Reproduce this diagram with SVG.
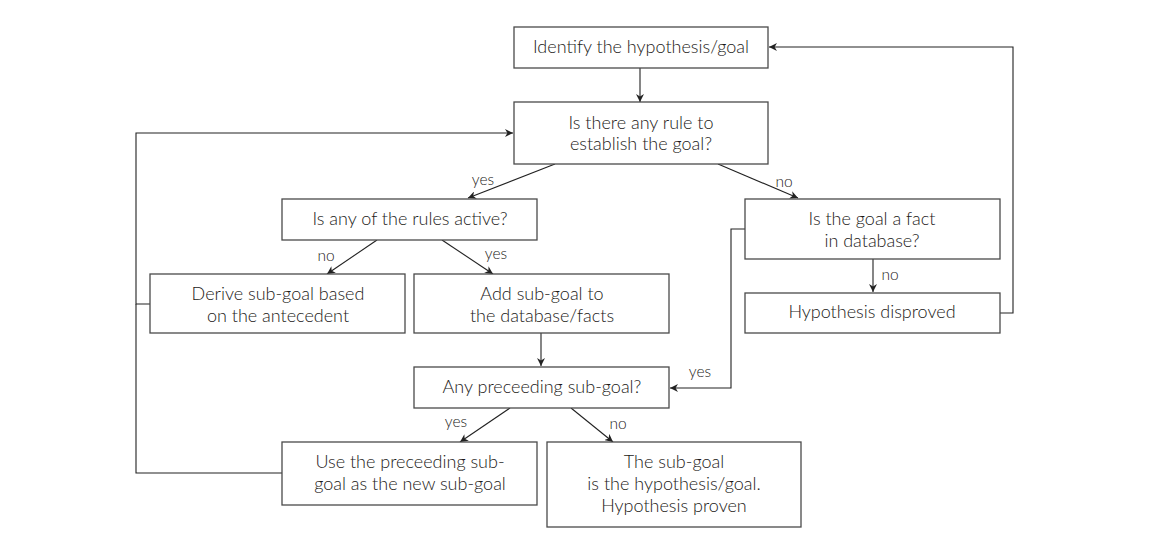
<svg xmlns="http://www.w3.org/2000/svg" width="1170" height="546" viewBox="0 0 1170 546">
<style>
.box{fill:#fff;stroke:#4a4a4a;stroke-width:1.3}
.t{font-family:Lato,"Liberation Sans",sans-serif;font-size:18px;font-weight:300;fill:#1c1a18;text-anchor:middle}
.l{font-family:Lato,"Liberation Sans",sans-serif;font-size:15.5px;font-weight:300;fill:#1c1a18;text-anchor:middle}
.c{fill:none;stroke:#222;stroke-width:1.1}
</style>
<defs>
<marker id="a" viewBox="0 0 10 10" refX="10" refY="5" markerWidth="8" markerHeight="8" markerUnits="userSpaceOnUse" orient="auto">
<path d="M0,0 L10,5 L0,10 L3,5 Z" fill="#222"/>
</marker>
</defs>
<rect width="1170" height="546" fill="#fff"/>
<g id="connectors">
<path class="c" d="M640,68 V102" marker-end="url(#a)"/>
<path class="c" d="M555,164 L468,198" marker-end="url(#a)"/>
<path class="c" d="M718,164 L798,198" marker-end="url(#a)"/>
<path class="c" d="M377,240 L327,274" marker-end="url(#a)"/>
<path class="c" d="M442,240 L493,274" marker-end="url(#a)"/>
<path class="c" d="M873,259 V292" marker-end="url(#a)"/>
<path class="c" d="M541,333 V366" marker-end="url(#a)"/>
<path class="c" d="M745,229 H731 V388 H670" marker-end="url(#a)"/>
<path class="c" d="M1000,313 H1013 V47 H769" marker-end="url(#a)"/>
<path class="c" d="M510,408 L460,442" marker-end="url(#a)"/>
<path class="c" d="M571,408 L613,442" marker-end="url(#a)"/>
<path class="c" d="M150,304 H136 V133 H513" marker-end="url(#a)"/>
<path class="c" d="M282,473 H136 V304"/>
<text class="l" x="483" y="185">yes</text>
<text class="l" x="784" y="187">no</text>
<text class="l" x="326" y="261">no</text>
<text class="l" x="496" y="259">yes</text>
<text class="l" x="890" y="280">no</text>
<text class="l" x="700" y="377">yes</text>
<text class="l" x="456" y="427">yes</text>
<text class="l" x="618" y="429">no</text>
</g>
<g id="n1"><rect class="box" x="514" y="27" width="254" height="41"/><text class="t" x="641" y="53">Identify the hypothesis/goal</text></g>
<g id="n2"><rect class="box" x="514" y="102" width="254" height="62"/><text class="t" x="641" y="129">Is there any rule to</text><text class="t" x="641" y="150">establish the goal?</text></g>
<g id="n3"><rect class="box" x="282" y="199" width="255" height="41"/><text class="t" x="410" y="225">Is any of the rules active?</text></g>
<g id="n4"><rect class="box" x="745" y="199" width="255" height="60"/><text class="t" x="872" y="225">Is the goal a fact</text><text class="t" x="872" y="247">in database?</text></g>
<g id="n5"><rect class="box" x="150" y="274" width="255" height="59"/><text class="t" x="278" y="300">Derive sub-goal based</text><text class="t" x="278" y="322">on the antecedent</text></g>
<g id="n6"><rect class="box" x="414" y="274" width="255" height="59"/><text class="t" x="542" y="300">Add sub-goal to</text><text class="t" x="542" y="322">the database/facts</text></g>
<g id="n7"><rect class="box" x="745" y="293" width="255" height="40"/><text class="t" x="872" y="318">Hypothesis disproved</text></g>
<g id="n8"><rect class="box" x="414" y="367" width="255" height="41"/><text class="t" x="542" y="393">Any preceeding sub-goal?</text></g>
<g id="n9"><rect class="box" x="282" y="442" width="255" height="63"/><text class="t" x="410" y="468">Use the preceeding sub-</text><text class="t" x="410" y="490">goal as the new sub-goal</text></g>
<g id="n10"><rect class="box" x="547" y="442" width="254" height="85"/><text class="t" x="674" y="468">The sub-goal</text><text class="t" x="674" y="490">is the hypothesis/goal.</text><text class="t" x="674" y="512">Hypothesis proven</text></g>
</svg>
